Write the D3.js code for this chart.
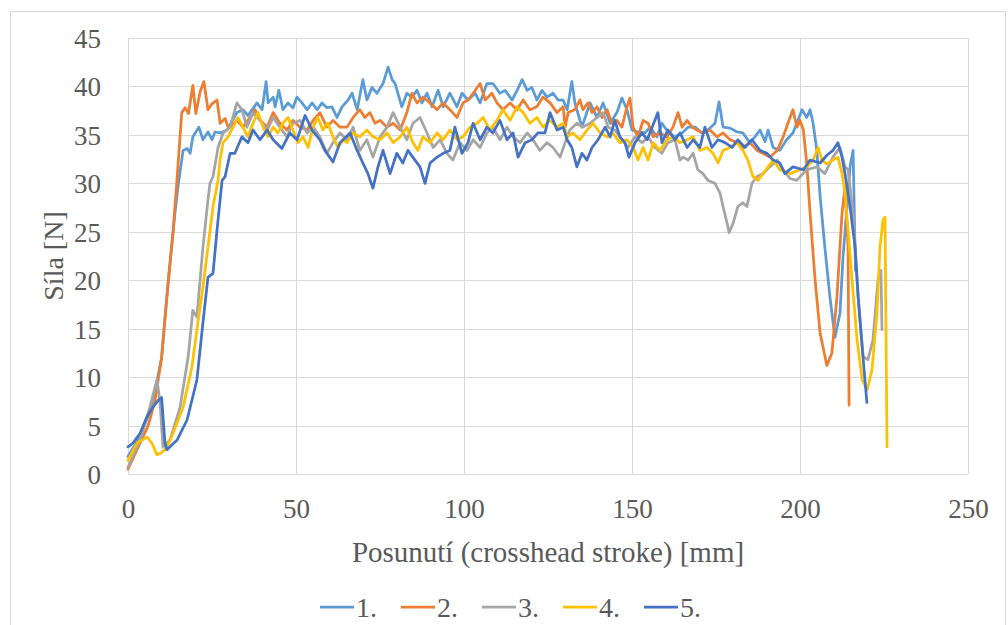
<!DOCTYPE html>
<html>
<head>
<meta charset="utf-8">
<script src="https://cdn.jsdelivr.net/npm/d3@7"></script>
<style>
  body { margin: 0; background: #fff; }
  svg { display: block; }
  text { font-family: "Liberation Serif", "Times New Roman", serif; fill: #595959; }
</style>
</head>
<body>
<script>
// data: [posunutí mm, síla N]
const seriesNames = ['1.', '2.', '3.', '4.', '5.']
const colors = ['#5B9BD5', '#ED7D31', '#A5A5A5', '#FFC000', '#4472C4']
const xTicks = [0, 50, 100, 150, 200, 250]
const yTicks = [0, 5, 10, 15, 20, 25, 30, 35, 40, 45]

const s1 = [[0,1.8],[3,3.5],[6,6],[8,8.5],[10,12],[12,20],[14,27],[15,30],[16.4,33.4],[17.6,33.6],[18.5,33.1],[19.3,34.8],[21.1,35.8],[22.3,34.5],[23.8,35.3],[25,34.5],[25.9,35.3],[27.4,35.2],[29.5,35.5],[32.4,37.3],[34.2,37.6],[35.7,37],[38.4,38.3],[39.9,37.6],[41.1,40.5],[41.7,38.3],[43.2,38.9],[43.8,37.9],[44.9,39.6],[46.1,37.6],[47.6,38.3],[49.1,37.8],[50.3,38.9],[51.8,38.3],[53.3,37.6],[54.8,38.3],[56.3,37.6],[57.7,38.3],[59.2,37.8],[60.7,37.9],[62.2,36.8],[63.7,37.9],[65.5,38.6],[66.7,39.3],[68.2,37.6],[69.9,40.7],[71.1,38.6],[72.6,39.9],[74.1,39.3],[75.9,40.3],[77.4,42],[78.6,40.7],[79.5,40.3],[81.5,37.9],[83,39.3],[84.5,38.9],[86,39.6],[87.5,38.3],[89,39.3],[90.5,37.9],[92.3,39.6],[93.8,37.9],[95.8,39.3],[97.9,37.9],[99.4,39.3],[101.2,38.6],[103.3,39.3],[104.8,38.3],[106.8,40.3],[108.6,40.3],[110.7,39.3],[112.2,39.6],[114.3,38.6],[115.8,39.6],[117.3,40.7],[118.8,39.6],[120.2,39.9],[121.7,38.6],[123.2,39.6],[124.7,38.9],[126.5,39.3],[128,38.6],[129.5,38.6],[130.7,37.6],[132.1,40.5],[133,38.3],[135.1,35.8],[137.5,38.3],[139.6,36.8],[141.4,38.3],[143.5,36.2],[145.5,37.3],[147,38.8],[148.5,37.6],[150,35.5],[151.8,35.3],[153.9,35.2],[155.4,35.8],[157.4,34.8],[158.9,36.2],[160.7,35.3],[162.8,34.8],[164.9,35.2],[166.7,35.8],[168.8,35.8],[170.8,35.2],[172.6,35.5],[174.7,36.2],[175.9,38.4],[177.1,35.8],[179.2,35.7],[181.3,35.3],[183,35.2],[185.1,34.2],[186.6,34.8],[188.1,35.5],[189.6,34.3],[190.5,35.5],[192,33.7],[194,33.4],[196,34.5],[197.9,35.2],[199.4,36.5],[200.6,37.6],[202,36.8],[203,37.6],[203.9,36.2],[205,33.4],[206,28.6],[207.4,23.4],[208.9,18.3],[210.4,14.1],[211.9,16.6],[212.8,22.4],[214,27.6],[214.9,31.7],[215.8,33.4],[216.5,21]]

const s2 = [[0,0.5],[2,2],[4,3.5],[6,5],[8,7.5],[10,12],[11.5,18],[13.4,25],[14.5,30],[16,37.3],[17,37.8],[18,37.2],[19.3,40.1],[20.2,37.2],[21.5,39.5],[22.6,40.5],[23.8,37.6],[25,38.2],[26.5,38.6],[27.4,36.2],[28.9,36.7],[29.8,35.8],[30.4,35.8],[32.4,36.5],[34.2,35.8],[36.3,36.8],[37.8,37.6],[39.3,36.5],[41.4,35.8],[43.2,37.3],[45.2,36.2],[47.3,35.5],[49.1,36.5],[51.2,35.8],[53.3,35.5],[55.1,36.5],[57.1,37.3],[59.2,35.8],[61,36.5],[63.1,35.8],[65.2,35.8],[67,36.8],[69,37.6],[70.5,36.8],[72,37.3],[73.5,36.2],[75,36.5],[77.1,35.8],[78.9,36.2],[81,35.5],[83,37.3],[84.5,39.3],[86,38.3],[87.8,38.9],[89.9,38.3],[92,37.6],[93.8,38.3],[95.8,37.6],[97.9,36.8],[99.7,38.3],[101.2,38.6],[102.7,39.3],[104.8,40.3],[106.3,38.6],[108.3,39.3],[109.8,38.3],[111.6,37.6],[113.7,38.3],[115.8,37.6],[117.6,38.6],[119.6,37.6],[121.7,37.9],[123.5,38.9],[125.6,38.3],[127.7,37.3],[129.5,37.9],[130.1,35.8],[131,37.3],[133,37.6],[134.5,38.6],[135.4,37.6],[136.9,38.3],[138.1,37.3],[139.6,37.9],[141.1,36.8],[142.6,37.6],[144,36.2],[145.5,36.5],[147,35.8],[148.5,37.9],[149.4,38.8],[150.3,35.8],[151.8,34.8],[153.3,36.5],[154.8,36.2],[156.3,34.8],[158.3,35.2],[160.4,34.8],[162.2,35.8],[163.7,37.3],[164.9,35.8],[166.4,36.5],[167.9,35.8],[169.3,35.5],[171.1,35.2],[173.2,35.5],[175.3,34.8],[177.1,35.2],[179.2,34.5],[181.3,34.2],[183,33.7],[185.1,34.2],[187.2,33.4],[189,33.1],[191,32.7],[193.2,33.4],[195,34.8],[196.4,36.2],[197.9,37.6],[199.1,35.8],[200,36.5],[201,35.5],[202,32.1],[203,26.9],[204.5,20],[206,14.5],[208,11.2],[209.5,12.5],[211,18.3],[212.5,26.9],[213.4,29.6],[214.3,23.4],[214.6,7.1]]

const s3 = [[0,0.7],[3.6,3.5],[6.5,6.9],[8.6,9.7],[9.5,7.6],[10.4,2.8],[12.5,3.5],[15.5,6.9],[17.9,12.1],[19.3,16.9],[20.5,16.2],[22.3,23.4],[23.8,28.3],[24.4,30],[25.3,30.7],[26.8,33.7],[28.3,35.2],[30.4,35.8],[32.4,38.3],[33.9,37.6],[35.4,35.8],[37.2,37.3],[39.3,36.5],[41.4,35.5],[43.2,36.8],[45.2,35.8],[47.3,34.8],[49.1,36.2],[51.2,36.5],[53.3,35.2],[55.1,35.8],[57.1,34.8],[59.2,33.1],[61,34.2],[63.1,35.2],[65.2,34.5],[67,35.8],[69,33.4],[71.1,34.5],[72.9,32.7],[75,34.8],[77.1,35.8],[78.9,37.3],[81,35.8],[83,34.5],[84.8,36.2],[86.9,36.8],[89,35.2],[90.8,33.7],[92.9,34.5],[94.9,33.1],[96.7,32.4],[98.8,34.2],[100.9,33.4],[102.7,34.5],[104.8,33.7],[106.8,35.2],[108.6,35.8],[110.7,34.5],[112.8,35.8],[114.6,34.8],[116.7,34.2],[118.8,35.2],[120.5,34.5],[122.6,33.4],[124.7,34.2],[126.5,33.7],[128.6,32.7],[130.1,34.2],[131.5,35.5],[133.6,36.2],[135.4,35.8],[137.5,36.2],[139.6,36.8],[141.4,37.3],[142.9,35.8],[144.9,35.5],[147,34.5],[148.8,33.7],[150.9,34.8],[153,34.2],[154.8,34.8],[156.8,33.7],[158.9,33.1],[160.7,34.2],[162.8,34.5],[164.3,32.4],[165.2,32.7],[166.7,32.4],[168.2,33.1],[169.6,31.4],[171.1,31],[172.6,30.3],[174.7,30],[176.2,29],[177.1,27.6],[178.3,25.9],[178.9,24.9],[180.1,25.9],[181.5,27.6],[183,28],[184.2,27.6],[185.7,30],[187.2,30.7],[189,31],[191,31.7],[193.2,32.4],[195,31.4],[197,30.5],[199,30.3],[202,31.4],[205,31.7],[207.4,31],[209.8,32.7],[211.9,33.7],[213.4,31.7],[214.3,31.4],[215.8,26.9],[217.3,18.3],[218.8,12.1],[220.2,11.8],[221.7,13.8],[223.2,20],[224.1,21],[224.4,14.9]]

const s4 = [[0,1.4],[2.7,3.2],[5.7,3.8],[7.1,3.2],[8.6,2],[10,2.2],[11.6,2.8],[13.4,4.2],[16.4,6.9],[19,11],[20.8,15.6],[22.3,19.3],[23.8,23.4],[25.3,27.6],[26.8,30.3],[27.4,32.4],[28.3,34.2],[29.8,34.8],[31.3,35.8],[32.7,36.8],[34.2,35.8],[35.7,34.8],[37.2,36.2],[38.7,37.3],[40.2,35.8],[41.7,34.8],[43.2,35.8],[44.6,35.2],[46.1,36.2],[47.6,36.8],[49.1,35.5],[50.6,34.2],[52.1,34.8],[53.6,33.7],[55.1,35.8],[56.5,36.8],[58,35.5],[59.5,36.2],[61,34.8],[62.5,33.7],[64,34.5],[65.2,34.2],[67,35.2],[69,34.8],[71.1,35.5],[72.9,34.8],[75,34.5],[77.1,35.2],[78.9,34.2],[81,34.8],[83,35.8],[84.8,34.2],[86.3,33.4],[87.8,34.8],[89.9,34.2],[92,35.2],[93.8,34.5],[95.8,35.5],[97.9,34.5],[99.7,34.8],[101.8,35.8],[103.9,36.2],[105.7,36.8],[107.7,35.5],[109.8,36.5],[111.6,37.6],[113.7,36.5],[115.8,37.9],[117.6,37.3],[119.6,36.2],[121.7,36.8],[123.5,35.8],[125.6,36.5],[127.7,35.8],[129.5,36.2],[130.7,34.8],[132.4,35.2],[134.5,34.5],[136.6,35.5],[138.4,36.2],[140.5,35.2],[142.6,34.8],[144.3,35.2],[146.4,34.2],[148.5,34.5],[150.3,33.7],[151.8,32.4],[153.3,33.7],[154.8,32.4],[156.3,34.2],[158.3,33.4],[160.4,34.5],[162.2,34.8],[164.3,34.2],[166.4,34.5],[168.2,34.8],[170.2,33.4],[172.3,33.7],[174.1,33.1],[175.6,32.1],[177.1,33.4],[179.2,33.7],[181.3,34.2],[183,33.4],[184.5,32.4],[186,30.7],[187.5,30.3],[189,31],[190.5,31.7],[192,32.4],[194,31.4],[197,31],[200,31.4],[202,31.7],[203.9,32.4],[205.4,33.7],[206.5,32.4],[208,32],[209.8,32.4],[211.3,32.7],[212.5,31],[213.4,29],[214.3,25.2],[215.5,20],[217,13.8],[218.5,9.7],[220,8.7],[221.4,10.7],[222.9,16.6],[223.8,23.4],[224.7,26.2],[225.3,26.5],[225.9,2.8]]

const s5 = [[0,2.8],[1.5,3.2],[3.6,4.2],[5.5,5.8],[7.4,6.9],[9,7.6],[10,7.9],[11,3.2],[11.6,2.5],[14.6,3.5],[17.6,5.6],[20.5,9.7],[22.3,15.6],[23.8,20.3],[25.3,20.7],[26.5,25.2],[28,30.3],[28.9,30.7],[30.4,33.1],[31.8,33.1],[33.9,34.8],[35.7,34.2],[37.2,35.5],[39.3,34.5],[41.4,35.5],[43.2,34.5],[45.8,33.6],[48.2,35.2],[50.3,34.5],[52.7,37],[54.8,35.5],[57.1,34.5],[58.6,33.4],[61,32.2],[63.1,34.2],[66.1,35.2],[68.2,33.4],[69.9,32.1],[71.4,31],[72.9,29.5],[74.4,31.7],[75.9,33.4],[78,31],[80,33.1],[81.8,32.1],[83.3,33.4],[85.4,32.4],[86.9,31.7],[88.4,30],[89.9,32.1],[92,32.7],[93.8,33.1],[95.8,33.4],[97.3,35.8],[99.4,33.1],[101.2,34.2],[102.7,36.2],[104.8,34.5],[106.8,35.8],[108.6,35.2],[110.7,36.5],[112.8,34.5],[114.6,35.2],[116.1,32.7],[118.2,34.2],[120.2,34.5],[122,35.2],[124.1,35.2],[125.6,37.3],[127.7,35.5],[129.5,35.8],[130.7,34.5],[132.1,33.7],[133.6,31.7],[135.1,33.1],[136.6,32.4],[138.1,33.7],[139.9,34.5],[142,35.8],[143.5,34.8],[144.9,36.5],[146.4,34.8],[147.9,34.2],[149.1,32.7],[150.9,34.2],[153,35.2],[154.5,34.5],[156,35.8],[157.7,37.3],[158.9,34.2],[160.7,35.5],[162.8,34.5],[164.3,35.2],[166.4,33.7],[168.2,34.5],[170.2,33.7],[171.7,35.8],[173.8,33.7],[175.6,34.5],[177.7,34.2],[179.8,33.7],[181.5,34.5],[183.6,33.7],[185.7,34.5],[188.1,33.4],[190.2,33.1],[192,32.4],[194,32.1],[195.5,31],[197.9,31.7],[201,31.4],[203,32.4],[206,32.1],[208,32.9],[209.8,33.4],[211.3,34.2],[212.5,32.7],[213.4,31],[214.9,27.6],[216.4,23.4],[217.3,18.3],[218.5,13.1],[219.9,7.4]]

const allSeries = [s1, s2, s3, s4, s5]

let width = 1008
let height = 625
let margin = { top: 38, right: 40, bottom: 151, left: 128 }

const svg = d3.select('body')
  .append('svg')
  .attr('width', width)
  .attr('height', height)

// outer chart frame
svg.append('rect')
  .attr('x', 10.5)
  .attr('y', 11.5)
  .attr('width', 995)
  .attr('height', 640)
  .attr('fill', 'none')
  .attr('stroke', '#d9d9d9')

const x = d3.scaleLinear()
  .domain([0, 250])
  .range([margin.left, width - margin.right])

const y = d3.scaleLinear()
  .domain([0, 45])
  .range([height - margin.bottom, margin.top])

// grid
svg.append('g')
  .selectAll('line')
  .data(yTicks)
  .join('line')
  .attr('x1', x(0))
  .attr('x2', x(250))
  .attr('y1', d => Math.round(y(d)) + 0.5)
  .attr('y2', d => Math.round(y(d)) + 0.5)
  .attr('stroke', '#d9d9d9')

svg.append('g')
  .selectAll('line')
  .data(xTicks)
  .join('line')
  .attr('x1', d => Math.round(x(d)) + 0.5)
  .attr('x2', d => Math.round(x(d)) + 0.5)
  .attr('y1', y(0))
  .attr('y2', y(45))
  .attr('stroke', '#d9d9d9')

// axes (labels only)
const xAxis = d3.axisBottom(x).tickValues(xTicks).tickSize(0).tickFormat(d3.format('d'))
const gx = svg.append('g')
  .attr('transform', `translate(0,${y(0)})`)
  .call(xAxis)
gx.select('.domain').remove()
gx.selectAll('text')
  .attr('y', 44)
  .attr('dy', 0)
  .attr('font-size', 27)
  .attr('font-family', null)
  .attr('fill', '#595959')

const yAxis = d3.axisLeft(y).tickValues(yTicks).tickSize(0).tickFormat(d3.format('d'))
const gy = svg.append('g')
  .attr('transform', `translate(${x(0)},0)`)
  .call(yAxis)
gy.select('.domain').remove()
gy.selectAll('text')
  .attr('x', -27)
  .attr('dy', '0.35em')
  .attr('font-size', 27)
  .attr('font-family', null)
  .attr('fill', '#595959')

// lines
const line = d3.line()
  .x(d => x(d[0]))
  .y(d => y(d[1]))

svg.append('g')
  .selectAll('path')
  .data(allSeries)
  .join('path')
  .attr('d', line)
  .attr('fill', 'none')
  .attr('stroke', (d, i) => colors[i])
  .attr('stroke-width', 2.75)
  .attr('stroke-linejoin', 'round')
  .attr('stroke-linecap', 'round')

// axis titles
svg.append('text')
  .attr('x', (x(0) + x(250)) / 2)
  .attr('y', 562)
  .attr('text-anchor', 'middle')
  .attr('font-size', 29)
  .text('Posunutí (crosshead stroke) [mm]')

svg.append('text')
  .attr('transform', `translate(63,${(y(0) + y(45)) / 2}) rotate(-90)`)
  .attr('text-anchor', 'middle')
  .attr('font-size', 28)
  .text('Síla [N]')

// legend
const legend = svg.append('g')
  .selectAll('g')
  .data(seriesNames)
  .join('g')
  .attr('transform', (d, i) => `translate(${320 + i * 81},607)`)

legend.append('line')
  .attr('x1', 0)
  .attr('x2', 34)
  .attr('stroke', (d, i) => colors[i])
  .attr('stroke-width', 2.75)

legend.append('text')
  .attr('x', 36)
  .attr('y', 10)
  .attr('font-size', 28)
  .text(d => d)
</script>
</body>
</html>
